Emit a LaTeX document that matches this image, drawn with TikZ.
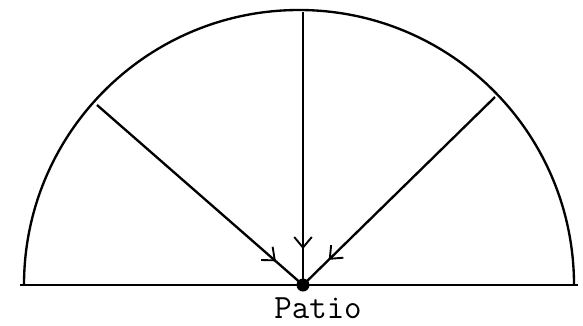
\documentclass[tikz,border=0pt]{standalone}
\usepackage{fontspec}
\usetikzlibrary{arrows.meta,decorations.markings}
\begin{document}
\begin{tikzpicture}[x=0.03cm,y=-0.03cm,
  ln/.style={line width=2pt,black},
  ray/.style={ln,postaction={decorate},decoration={markings,
     mark=at position -36*0.03cm with {\arrow{Straight Barb[length=9pt,width=15pt,line width=1.6pt]}}}}]
\useasboundingbox (0,0) rectangle (583,325);
\coordinate (le) at (20,285);
\coordinate (re) at (578,285);
\coordinate (o) at (303,285);
\coordinate (t) at (303,12);
\coordinate (l) at (97,105);
\coordinate (r) at (495,97);
\draw[ln] (le) -- (re);
\draw[ln] (24,285) arc[start angle=180,end angle=360,radius=275];
\draw[ray] (l) -- (o);
\draw[ray] (t) -- (o);
\draw[ray] (r) -- (o);
\fill (o) circle[radius=6.5];
\node[anchor=base,inner sep=0pt,font=\ttfamily\fontsize{29}{32}\selectfont] (lab) at (318,318) {Patio};
\end{tikzpicture}
\end{document}
